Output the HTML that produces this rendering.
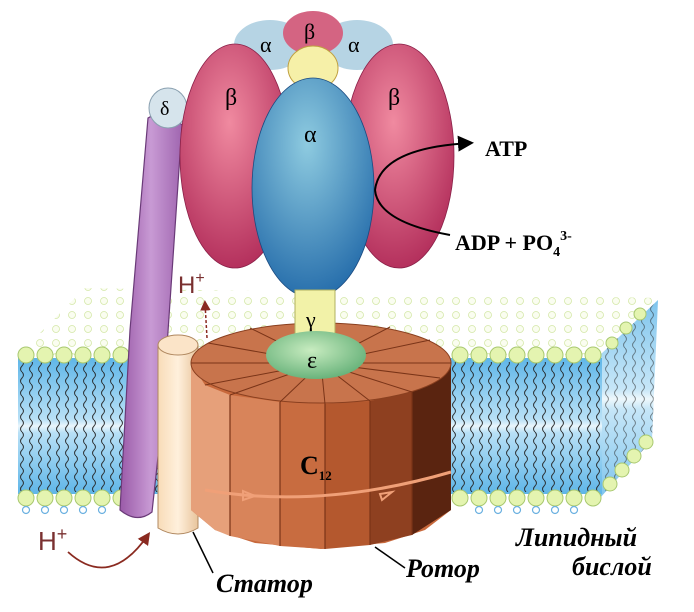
<!DOCTYPE html>
<html><head><meta charset="utf-8"><style>
html,body{margin:0;padding:0;background:#fff;}
svg{display:block;}
</style></head><body>
<svg width="694" height="612" viewBox="0 0 694 612" xmlns="http://www.w3.org/2000/svg">
<defs>
<linearGradient id="tail" x1="0" y1="0" x2="0" y2="1">
<stop offset="0" stop-color="#5fb6e8"/><stop offset="0.45" stop-color="#b8e0f6"/><stop offset="0.5" stop-color="#eaf6fc"/><stop offset="0.55" stop-color="#b8e0f6"/><stop offset="1" stop-color="#5fb6e8"/>
</linearGradient>
<pattern id="wig" width="9" height="12" patternUnits="userSpaceOnUse">
<path d="M4 0 q3 3 0 6 q-3 3 0 6" stroke="#222" stroke-width="1" fill="none"/>
</pattern>
<pattern id="heads" width="16" height="14" patternUnits="userSpaceOnUse">
<circle cx="8" cy="7" r="3.5" fill="#fafdf0" stroke="#d4e8a8" stroke-width="0.8"/>
</pattern>
<radialGradient id="beta" cx="0.45" cy="0.35" r="0.7"><stop offset="0" stop-color="#f08aa0"/><stop offset="1" stop-color="#b02a58"/></radialGradient>
<radialGradient id="alpha" cx="0.45" cy="0.3" r="0.75"><stop offset="0" stop-color="#8ecbe0"/><stop offset="1" stop-color="#2068a8"/></radialGradient>
<radialGradient id="eps" cx="0.45" cy="0.4" r="0.7"><stop offset="0" stop-color="#c8ecc0"/><stop offset="1" stop-color="#5aaa70"/></radialGradient>
<linearGradient id="stat" x1="0" x2="1"><stop offset="0" stop-color="#f8dcb8"/><stop offset="0.5" stop-color="#fff0dc"/><stop offset="1" stop-color="#e8c49c"/></linearGradient>
<linearGradient id="purp" x1="0" x2="1"><stop offset="0" stop-color="#9a5aa8"/><stop offset="0.5" stop-color="#c89ad4"/><stop offset="1" stop-color="#a066b0"/></linearGradient>
<marker id="ah" markerWidth="8" markerHeight="8" refX="6" refY="4" orient="auto"><path d="M0 0 L8 4 L0 8z" fill="#000"/></marker>
<marker id="ahr" markerWidth="7" markerHeight="7" refX="5" refY="3.5" orient="auto"><path d="M0 0 L7 3.5 L0 7z" fill="#8a2a20"/></marker>
</defs>

<!-- membrane top surface -->
<polygon points="18,355 85,288 660,298 600,355" fill="url(#heads)"/>
<!-- right side face -->
<polygon points="600,355 658,300 652,440 600,498" fill="url(#tail)" opacity="0.8"/>
<polygon points="600,355 658,300 652,440 600,498" fill="url(#wig)" opacity="0.5"/>
<!-- front face -->
<rect x="18" y="358" width="584" height="136" fill="url(#tail)"/>
<rect x="18" y="362" width="584" height="130" fill="url(#wig)" opacity="0.9"/>
<g fill="#e4f4b0" stroke="#a8c870" stroke-width="1">
<g id="row1">
<circle cx="26" cy="355" r="8"/><circle cx="45" cy="355" r="8"/><circle cx="64" cy="355" r="8"/><circle cx="83" cy="355" r="8"/><circle cx="102" cy="355" r="8"/><circle cx="121" cy="355" r="8"/><circle cx="140" cy="355" r="8"/>
<circle cx="460" cy="355" r="8"/><circle cx="479" cy="355" r="8"/><circle cx="498" cy="355" r="8"/><circle cx="517" cy="355" r="8"/><circle cx="536" cy="355" r="8"/><circle cx="555" cy="355" r="8"/><circle cx="574" cy="355" r="8"/><circle cx="593" cy="355" r="8"/>
</g>
<use href="#row1" transform="translate(0,143)"/>
<circle cx="610" cy="484" r="7"/><circle cx="622" cy="470" r="7"/><circle cx="634" cy="456" r="7"/><circle cx="646" cy="442" r="7"/>
<circle cx="612" cy="343" r="6"/><circle cx="626" cy="328" r="6"/><circle cx="640" cy="314" r="6"/>
</g>
<g fill="none" stroke="#6ab0e0" stroke-width="1.2">
<circle cx="26" cy="510" r="3.5"/><circle cx="45" cy="510" r="3.5"/><circle cx="64" cy="510" r="3.5"/><circle cx="83" cy="510" r="3.5"/><circle cx="102" cy="510" r="3.5"/>
<circle cx="479" cy="510" r="3.5"/><circle cx="498" cy="510" r="3.5"/><circle cx="517" cy="510" r="3.5"/><circle cx="536" cy="510" r="3.5"/><circle cx="555" cy="510" r="3.5"/><circle cx="574" cy="510" r="3.5"/>
</g>

<!-- purple stalk -->
<path d="M148 118 Q166 108 182 125 L162 420 L152 512 Q137 524 120 510 L130 330 Z" fill="url(#purp)" stroke="#6a3a78" stroke-width="1.2"/>
<!-- delta -->
<ellipse cx="168" cy="108" rx="19" ry="20" fill="#d6e4ec" stroke="#8aa0b0"/>
<text x="160" y="115" font-family="Liberation Serif, serif" font-size="20">δ</text>

<!-- F1 back -->
<ellipse cx="270" cy="45" rx="36" ry="25" fill="#b6d4e4"/>
<ellipse cx="357" cy="45" rx="36" ry="25" fill="#b6d4e4"/>
<ellipse cx="313" cy="33" rx="30" ry="22" fill="#d46482"/>
<ellipse cx="313" cy="68" rx="25" ry="22" fill="#f6f0a8" stroke="#c0a040"/>
<text x="260" y="52" font-family="Liberation Serif, serif" font-size="22">α</text>
<text x="348" y="52" font-family="Liberation Serif, serif" font-size="22">α</text>
<text x="304" y="39" font-family="Liberation Serif, serif" font-size="22">β</text>
<ellipse cx="235" cy="156" rx="55" ry="112" fill="url(#beta)" stroke="#8a2048" stroke-width="0.8"/>
<ellipse cx="399" cy="156" rx="55" ry="112" fill="url(#beta)" stroke="#8a2048" stroke-width="0.8"/>
<text x="225" y="105" font-family="Liberation Serif, serif" font-size="24">β</text>
<text x="388" y="105" font-family="Liberation Serif, serif" font-size="24">β</text>

<!-- alpha front -->
<ellipse cx="313" cy="188" rx="61" ry="110" fill="url(#alpha)" stroke="#1a4a80" stroke-width="0.8"/>
<text x="304" y="142" font-family="Liberation Serif, serif" font-size="24">α</text>

<!-- ATP arrow -->
<path d="M375 190 Q380 148 470 143" fill="none" stroke="#000" stroke-width="2" marker-end="url(#ah)"/>
<path d="M375 190 Q378 222 450 235" fill="none" stroke="#000" stroke-width="2"/>
<text x="485" y="156" font-family="Liberation Serif, serif" font-weight="bold" font-size="22">ATP</text>
<text x="455" y="250" font-family="Liberation Serif, serif" font-weight="bold" font-size="22">ADP + PO<tspan font-size="14" dy="6">4</tspan><tspan font-size="14" dy="-16">3-</tspan></text>

<!-- stator -->
<path d="M158 345 L158 528 Q178 540 198 528 L198 345 Z" fill="url(#stat)" stroke="#b08860"/>
<ellipse cx="178" cy="345" rx="20" ry="10" fill="#fbe4c8" stroke="#b08860"/>

<!-- rotor -->
<path d="M191 363 L191 510 L215 530 L255 543 L321 549 L385 543 L425 530 L451 510 L451 363 Z" fill="#c8693c"/>
<path d="M191 363 L191 510 L215 530 L230 536 L230 395 L205 385 Z" fill="#e6a07a"/>
<path d="M230 395 L230 536 L280 546 L280 402 Z" fill="#d8845a"/>
<path d="M280 402 L280 546 L325 549 L325 404 Z" fill="#c86c40"/>
<path d="M325 404 L325 549 L370 545 L370 401 Z" fill="#b4582e"/>
<path d="M370 401 L370 545 L412 535 L412 392 Z" fill="#8e4020"/>
<path d="M412 392 L412 535 L451 510 L451 363 Z" fill="#5a2410"/>
<g stroke="#7a3418" stroke-width="1.2" fill="none">
<line x1="230" y1="395" x2="230" y2="536"/><line x1="280" y1="402" x2="280" y2="546"/><line x1="325" y1="404" x2="325" y2="549"/><line x1="370" y1="401" x2="370" y2="545"/><line x1="412" y1="392" x2="412" y2="535"/>
</g>
<ellipse cx="321" cy="363" rx="130" ry="40" fill="#c8744c" stroke="#8a4020"/>
<g stroke="#7a3418" stroke-width="1">
<line x1="321" y1="363" x2="191" y2="363"/><line x1="321" y1="363" x2="205" y2="385"/><line x1="321" y1="363" x2="230" y2="395"/><line x1="321" y1="363" x2="280" y2="402"/><line x1="321" y1="363" x2="325" y2="404"/><line x1="321" y1="363" x2="370" y2="401"/><line x1="321" y1="363" x2="412" y2="392"/><line x1="321" y1="363" x2="440" y2="378"/><line x1="321" y1="363" x2="451" y2="363"/><line x1="321" y1="363" x2="430" y2="340"/><line x1="321" y1="363" x2="390" y2="327"/><line x1="321" y1="363" x2="250" y2="328"/><line x1="321" y1="363" x2="208" y2="343"/>
</g>
<!-- gamma -->
<rect x="295" y="290" width="40" height="50" fill="#f2f2a8" stroke="#b0b060"/>
<text x="306" y="327" font-family="Liberation Serif, serif" font-size="22">γ</text>
<ellipse cx="316" cy="355" rx="50" ry="24" fill="url(#eps)"/>
<text x="307" y="368" font-family="Liberation Serif, serif" font-size="24">ε</text>
<!-- rotation band -->
<path d="M205 490 Q321 510 451 472" fill="none" stroke="#f0a078" stroke-width="3"/>
<path d="M243 491 L255 496 L243 500Z M380 494 L392 492 L382 500Z" fill="none" stroke="#f0a078" stroke-width="2"/>
<text x="300" y="474" font-family="Liberation Serif, serif" font-weight="bold" font-size="26">C<tspan font-size="13" dy="6">12</tspan></text>

<!-- H+ labels -->
<text x="178" y="293" font-family="Liberation Sans, sans-serif" font-size="24" fill="#7a3030">H<tspan font-size="16" dy="-10">+</tspan></text>
<path d="M207 338 L205 303" stroke="#8a2a20" stroke-width="1.5" marker-end="url(#ahr)" stroke-dasharray="3,2"/>
<text x="38" y="550" font-family="Liberation Sans, sans-serif" font-size="26" fill="#7a3030">H<tspan font-size="18" dy="-10">+</tspan></text>
<path d="M68 552 Q110 590 148 535" fill="none" stroke="#8a2a20" stroke-width="1.8" marker-end="url(#ahr)"/>

<!-- labels -->
<line x1="193" y1="532" x2="213" y2="573" stroke="#000" stroke-width="1.5"/>
<line x1="375" y1="547" x2="405" y2="568" stroke="#000" stroke-width="1.5"/>
<g font-family="Liberation Serif, serif" font-weight="bold" font-style="italic" font-size="26">
<text x="216" y="592">Статор</text>
<text x="406" y="577">Ротор</text>
<text x="516" y="546">Липидный</text>
<text x="572" y="575">бислой</text>
</g>
</svg>
</body></html>
